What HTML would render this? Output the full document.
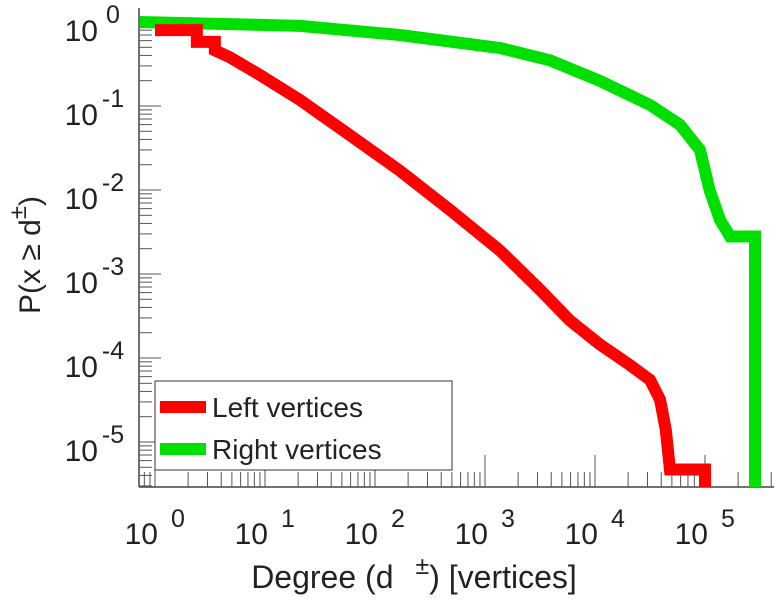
<!DOCTYPE html>
<html><head><meta charset="utf-8"><style>
body{margin:0;background:#fff;width:776px;height:600px;overflow:hidden}
text{font-family:"Liberation Sans",sans-serif;fill:#222}
</style></head><body>
<svg id="c" width="776" height="600">
<defs><clipPath id="cp"><rect x="139" y="8" width="635" height="479"/></clipPath></defs>
<g id="axes"></g><g id="series" clip-path="url(#cp)"></g><g id="leg"></g>
</svg>
<script>
const redDeg=[1,2.4,2.4,3.5,3.5,4.8,9,20.8,59,168,480,1370,3200,5900,11000,20900,31600,39000,44000,48000,100000,100000];
const redP=[0.8,0.8,0.58,0.58,0.46,0.38,0.234,0.118,0.045,0.017,0.0058,0.0019,0.00064,0.00028,0.000146,0.000082,0.000055,0.000032,0.000014,0.0000047,0.0000047,0.000001];
const greenDeg=[0.72,20.8,168,1370,3900,11000,31600,59000,90000,110000,137000,169000,285000,285000];
const greenP=[1,0.9,0.7,0.49,0.35,0.2,0.103,0.06,0.03,0.01,0.0044,0.0028,0.0028,0.000001];
const xTicks=[0,1,2,3,4,5];
const yTicks=[0,-1,-2,-3,-4,-5];
const NS='http://www.w3.org/2000/svg';
const X=d=>155+110*Math.log10(d);
const Y=p=>22-84*Math.log10(p);
function mk(t,a,par){const e=document.createElementNS(NS,t);for(const k in a)e.setAttribute(k,a[k]);par.appendChild(e);return e;}
const ax=document.getElementById('axes');
const xl=mk('line',{x1:139,y1:487,x2:774,y2:487,stroke:'#444','stroke-width':1.5},ax);


const yl=mk('line',{x1:139,y1:8,x2:139,y2:487,stroke:'#444','stroke-width':1.5},ax);


for(let e=-1;e<=5;e++)for(let m=1;m<10;m++){const x=X(m*Math.pow(10,e));if(x<139||x>774)continue;
 mk('line',{x1:x,y1:487,x2:x,y2:487-(m==1?32:15),stroke:'#555','stroke-width':1},ax);}
for(let e=-6;e<=0;e++)for(let m=1;m<10;m++){const y=Y(m*Math.pow(10,e));if(y<8||y>487)continue;
 mk('line',{x1:139,y1:y,x2:139+(m==1?22:13),y2:y,stroke:'#555','stroke-width':1},ax);}
xTicks.forEach(e=>{const x=X(Math.pow(10,e));
 const t=mk('text',{x:x+3,y:544,'font-size':30,'text-anchor':'end'},ax);t.textContent='10';
 
 
 const s=mk('text',{x:x+16,y:527,'font-size':25},ax);s.textContent=e;
 
 });
yTicks.forEach(e=>{const y=Y(Math.pow(10,e));
 const t=mk('text',{x:98,y:y+19,'font-size':30,'text-anchor':'end'},ax);t.textContent='10';
 
 
 const s=mk('text',{x:113,y:y+1,'font-size':25,'text-anchor':'middle'},ax);s.textContent=e;
 
 });
const xt=mk('text',{x:414,y:588,'font-size':32,'text-anchor':'middle'},ax);


xt.innerHTML='Degree (d<tspan dy="-14" dx="22" font-size="25">±</tspan><tspan dy="14">) [vertices]</tspan>';
const yt=mk('text',{x:0,y:0,'font-size':30,'text-anchor':'middle',transform:'translate(40,255) rotate(-90)'},ax);


yt.innerHTML='P(x ≥ d<tspan dy="-14" font-size="24">±</tspan><tspan dy="14">)</tspan>';
const sg=document.getElementById('series');
function line(xs,ys,col,name){const pts=xs.map((d,i)=>X(d)+','+Y(ys[i])).join(' ');
 const p=mk('polyline',{points:pts,fill:'none',stroke:col,'stroke-width':12,'stroke-linejoin':'miter'},sg);
 
 }
line(greenDeg,greenP,'#00e000','right-vertices-line');
line(redDeg,redP,'#ff0000','left-vertices-line');
const lg=document.getElementById('leg');
const box=mk('rect',{x:155,y:381,width:297,height:89,fill:'#fff',stroke:'#333','stroke-width':1},lg);


[['Left vertices','#ff0000',407],['Right vertices','#00e000',449]].forEach(([n,c,y])=>{
 const l=mk('line',{x1:160,y1:y,x2:206,y2:y,stroke:c,'stroke-width':12},lg);
 
 
 const t=mk('text',{x:212,y:y+10,'font-size':28},lg);t.textContent=n;
 
 });
</script>
</body></html>
